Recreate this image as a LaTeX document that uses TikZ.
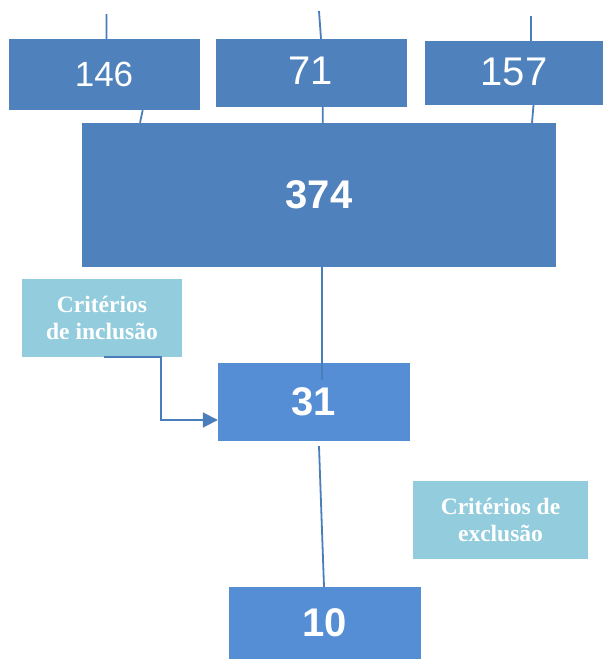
\documentclass[tikz,border=0pt]{standalone}
\usepackage{fontspec}
\setmainfont{Liberation Serif}
\newfontfamily\arialfont{Liberation Sans}
\usetikzlibrary{arrows.meta}
\definecolor{boxblue}{HTML}{4F81BD}
\definecolor{stepblue}{HTML}{558ED5}
\definecolor{critblue}{HTML}{93CDDD}
\definecolor{lineblue}{HTML}{4A7EBB}

\begin{document}
\begin{tikzpicture}[x=1pt,y=-1pt,
    box/.style={fill=boxblue, text=white, inner sep=0pt,
        font=\arialfont\fontsize{40}{40}\selectfont},
    stepbox/.style={box, fill=stepblue, font=\arialfont\bfseries\fontsize{40}{40}\selectfont},
    crit/.style={fill=critblue, text=white, inner sep=0pt, align=center,
        minimum width=#1, minimum height=78pt,
        font=\bfseries\fontsize{23.5}{27}\selectfont},
    wire/.style={draw=lineblue, line width=1.8pt}]
    \useasboundingbox (0,0) rectangle (603,659);

    \node[box, minimum width=191pt, minimum height=71pt, font=\arialfont\fontsize{35}{35}\selectfont] (n146) at (104,74.5) {146};
    \node[box, minimum width=191pt, minimum height=68pt] (n71) at (311,73) {\raisebox{4pt}{71}};
    \node[box, minimum width=178pt, minimum height=64pt] (n157) at (514,73) {\raisebox{3pt}{157}};
    \node[box, minimum width=474pt, minimum height=144pt, font=\arialfont\bfseries\fontsize{40}{40}\selectfont] (n374) at (319,195) {374};
    \node[crit=160pt] (inc) at (102,318) {Critérios\\de inclusão};
    \node[stepbox, minimum width=192pt, minimum height=78pt] (n31) at (314,402) {31};
    \node[crit=175pt] (exc) at (500.5,520) {Critérios de\\exclusão};
    \node[stepbox, minimum width=192pt, minimum height=72pt] (n10) at (325,623) {10};

    \coordinate (t146) at (106.5,14);
    \coordinate (t71) at (319,11);
    \coordinate (t157) at (531,16);

    \draw[wire] (t146) -- (t146 |- n146.north)
        (t71) -- ([xshift=10pt]n71.north)
        (t157) -- (t157 |- n157.north);
    \draw[wire] ([xshift=38.7pt]n146.south) -- ([xshift=-179pt]n374.north)
        ([xshift=11.7pt]n71.south) -- ([xshift=3.7pt]n374.north)
        ([xshift=19.5pt]n157.south) -- ([xshift=213pt]n374.north);
    \draw[wire] ([xshift=3pt]n374.south) -- ([xshift=8pt,yshift=-17pt]n31.north);
    \draw[wire] ([xshift=5pt,yshift=-5pt]n31.south) -- ([xshift=-1pt]n10.north);
    \draw[wire, -{Triangle[length=15pt,width=15pt]}] ([xshift=2pt]inc.south) -- ++(57,0)
        |- ([yshift=-18pt]n31.west);

\end{tikzpicture}
\end{document}
